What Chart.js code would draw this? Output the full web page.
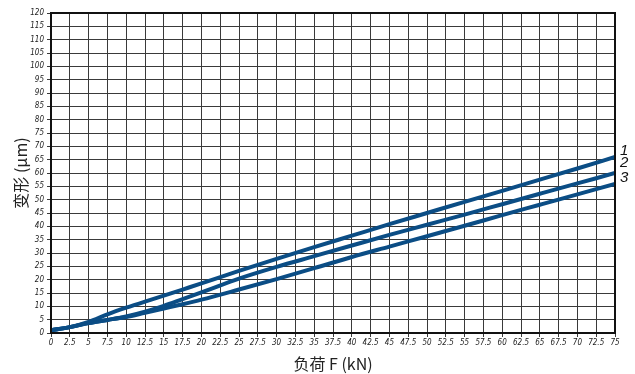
<!DOCTYPE html>
<html>
<head>
<meta charset="utf-8">
<script src="https://cdn.jsdelivr.net/npm/chart.js@4/dist/chart.umd.min.js"></script>
<style>
  html, body { margin: 0; padding: 0; background: #fff; }
  #wrap { width: 635px; height: 374px; }
</style>
</head>
<body>
<div id="wrap"><canvas id="deformChart"></canvas></div>
<script>
// load F (kN) and deformation (µm)
const loads  = [0, 2.5, 5, 7.5, 10, 12.5, 15, 17.5, 20, 25, 30, 35, 40, 45, 50, 55, 60, 65, 70, 75];
const curve1 = [1, 2.2, 4.2, 7, 9.5, 11.8, 14, 16.3, 18.6, 23.3, 27.8, 32.2, 36.5, 40.8, 45, 49.2, 53.3, 57.5, 61.7, 66];
const curve2 = [1, 2.2, 3.7, 4.9, 6.2, 8, 10.2, 12.7, 15.2, 20.4, 24.8, 28.8, 32.8, 36.8, 40.6, 44.4, 48.3, 52.2, 56.1, 60];
const curve3 = [1, 2.2, 3.7, 4.9, 6, 7.6, 9.2, 10.8, 12.5, 16.3, 20.2, 24.3, 28.5, 32.4, 36.3, 40.2, 44.2, 48.1, 52, 55.9];
const curveNames = ["1", "2", "3"];

const tickFont = { family: "'DejaVu Sans Condensed', 'Liberation Sans Narrow', sans-serif", size: 8, style: "italic" };
const lineColor = "#0b4d85";
const gridColor = "#3a3a3a";

const toPoints = (ys) => loads.map((x, i) => ({ x: x, y: ys[i] }));

// frame around the plot area
const frame = {
  id: "frame",
  afterDraw(chart) {
    const { ctx, chartArea: a } = chart;
    ctx.save();
    ctx.strokeStyle = "#111";
    ctx.lineWidth = 2;
    ctx.strokeRect(a.left, a.top, a.right - a.left, a.bottom - a.top);
    ctx.restore();
  },
};

// curve numbers at the right end of each line
const endLabels = {
  id: "endLabels",
  afterDatasetsDraw(chart) {
    const { ctx } = chart;
    const shift = [-6, -10, -6];
    ctx.save();
    ctx.font = "italic 15px 'Liberation Sans', sans-serif";
    ctx.fillStyle = "#111";
    ctx.textAlign = "left";
    ctx.textBaseline = "middle";
    chart.data.datasets.forEach((ds, i) => {
      const pts = chart.getDatasetMeta(i).data;
      const last = pts[pts.length - 1];
      ctx.fillText(curveNames[i], last.x + 5, last.y + shift[i]);
    });
    ctx.restore();
  },
};

new Chart(document.getElementById("deformChart"), {
  type: "line",
  data: {
    datasets: [curve1, curve2, curve3].map((ys, i) => ({
      label: curveNames[i],
      data: toPoints(ys),
      borderColor: lineColor,
      borderWidth: 4,
      pointRadius: 0,
      fill: false,
      cubicInterpolationMode: "monotone",
    })),
  },
  options: {
    responsive: true,
    maintainAspectRatio: false,
    animation: false,
    layout: { padding: { top: 13, right: 20, left: 0, bottom: 0 } },
    plugins: { legend: { display: false }, tooltip: { enabled: false } },
    scales: {
      x: {
        type: "linear",
        min: 0,
        max: 75,
        afterFit: (s) => { s.height = 41; },
        ticks: {
          stepSize: 2.5,
          autoSkip: false,
          maxRotation: 0,
          padding: 1,
          color: "#222",
          font: tickFont,
          callback: (v) => String(v),
        },
        grid: { color: gridColor, tickLength: 4 },
        border: { display: false },
        title: {
          display: true,
          text: "负荷 F (kN)",
          color: "#222",
          font: { family: "'Noto Sans CJK SC', sans-serif", size: 16 },
          padding: { top: -3, bottom: 0 },
        },
      },
      y: {
        min: 0,
        max: 120,
        afterFit: (s) => { s.width = 51; },
        ticks: {
          stepSize: 5,
          autoSkip: false,
          padding: 3,
          color: "#222",
          font: tickFont,
        },
        grid: { color: gridColor, tickLength: 4 },
        border: { display: false },
        title: {
          display: true,
          text: "变形 (μm)",
          color: "#222",
          font: { family: "'Noto Sans CJK SC', sans-serif", size: 16 },
          padding: { top: 11, bottom: 0 },
        },
      },
    },
  },
  plugins: [frame, endLabels],
});
</script>
</body>
</html>
